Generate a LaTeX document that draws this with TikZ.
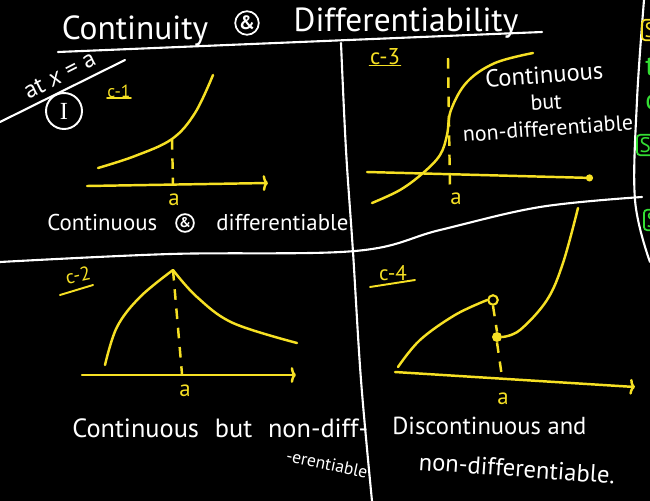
\documentclass[tikz,border=0pt]{standalone}
\usepackage{fontspec}
\setmainfont{PT Sans}
\newfontfamily\serifhand{Liberation Serif}
\usepackage{tikz}
\usetikzlibrary{arrows.meta, positioning, calc}
\definecolor{chalkyellow}{RGB}{246,224,36}
\definecolor{chalkgreen}{RGB}{52,222,52}

\begin{document}
\begin{tikzpicture}[
    x=0.02cm, y=-0.02cm,
    chalk/.style={draw=white, line width=1.2pt, line cap=round},
    curve/.style={draw=chalkyellow, line width=1.4pt, line cap=round},
    guide/.style={draw=chalkyellow, line width=1.4pt, dash pattern=on 6pt off 5pt},
    axis/.style={curve, -{To[length=3pt, width=9pt]}},
    hand/.style={text=white, inner sep=0pt, font=\fontsize{#1}{#1}\selectfont},
    tag/.style={text=chalkyellow, inner sep=0pt, font=\fontsize{#1}{#1}\selectfont},
    ampring/.style={circle, draw=white, line width=1pt, text=white, inner sep=0.5pt, font=\fontsize{#1}{#1}\selectfont\bfseries},
    alabel/.style={text=chalkyellow, inner sep=0pt, font=\fontsize{13}{13}\selectfont},
    fragbox/.style={rectangle, rounded corners=2pt, line width=1pt, inner sep=1.5pt, font=\fontsize{12}{12}\selectfont}
]

% ===== BOARD =====
\path[use as bounding box] (0,0) rectangle (650,501);
\clip (0,0) rectangle (650,501);
\fill[black] (0,0) rectangle (650,501);

% grid lines
\draw[chalk] plot[smooth, tension=0.6] coordinates {(341,43) (346,150) (353,252) (361,380) (372,501)};
\draw[chalk] plot[smooth, tension=0.6] coordinates {(0,262) (170,254) (355,251) (440,230) (540,207) (642,197)};
\draw[chalk] plot[smooth, tension=0.6] coordinates {(644,0) (637,100) (635,200) (650,262)};

% ===== TITLE =====
\node[hand=19, anchor=base] (title_l) at (135,39) {Continuity};
\node[ampring=11] (title_amp) at (247,23) {\&};
\node[hand=19, anchor=base] (title_r) at (406,31) {Differentiability};
\draw[chalk] (58,52) coordinate (rule_l) -- (542,32) coordinate (rule_r);

% at x = a
\node[hand=14, rotate=27, anchor=base] (at_note) at (63,82) {at \textit{x} = a};
\draw[chalk] (0,122) coordinate (note_l) -- (125,60) coordinate (note_r);
\node[circle, draw=white, line width=1.1pt, minimum size=0.72cm, inner sep=0pt, text=white,
      font=\serifhand\fontsize{14}{14}\selectfont] (case_one) at (64,111) {I};

% ===== C-1: CONTINUOUS AND DIFFERENTIABLE =====
\node[tag=10] (tag_c1) at (119,91) {c-1};
\draw[curve, line width=1.1pt] (tag_c1.south west) -- (tag_c1.south east);
\coordinate (c1_x0) at (87,186);
\coordinate (c1_x1) at (268,183);
\coordinate (c1_top) at (172,139);
\coordinate (c1_foot) at (173,184);
\draw[curve] plot[smooth, tension=0.6] coordinates {(98,168) (135,156) (c1_top) (195,113) (213,75)};
\draw[axis] (c1_x0) -- (c1_x1);
\draw[guide] (c1_top) -- (c1_foot);
\node[alabel] (a_c1) at (174,200) {a};
\node[hand=13, anchor=west] (cap_c1a) at (47,223) {Continuous};
\node[ampring=8] (cap_c1amp) at (185,223) {\&};
\node[hand=13, anchor=west] (cap_c1b) at (216,223) {differentiable};

% ===== C-3: CONTINUOUS BUT NON-DIFFERENTIABLE =====
\node[tag=13] (tag_c3) at (385,57) {c-3};
\draw[curve, line width=1.1pt] (tag_c3.south west) -- (tag_c3.south east);
\coordinate (c3_x0) at (367,172);
\coordinate (c3_x1) at (593,178);
\coordinate (c3_up) at (448,58);
\coordinate (c3_dn) at (450,190);
\draw[curve] plot[smooth, tension=0.6] coordinates {(372,203) (400,190) (423,173) (440,155) (447,135) (451,110) (467,82) (495,63) (533,53)};
\draw[curve, -{Circle[length=4pt]}] (c3_x0) -- (c3_x1);
\draw[guide] (c3_up) -- (c3_dn);
\node[alabel] (a_c3) at (456,199) {a};
\node[hand=12.5, rotate=4, align=center, font=\fontsize{12.5}{15}\selectfont] (txt_c3) at (546,101)
    {\fontsize{14}{15}\selectfont Continuous\\but\\non-differentiable};

% ===== C-2: CONTINUOUS BUT NON-DIFFERENTIABLE =====
\node[tag=11, rotate=12] (tag_c2) at (78,275) {c-2};
\draw[curve, line width=1.1pt] (60,295) coordinate (c2_ul) -- (93,285) coordinate (c2_ur);
\coordinate (c2_x0) at (82,375);
\coordinate (c2_x1) at (296,375);
\coordinate (c2_peak) at (173,270);
\coordinate (c2_foot) at (182,374);
\draw[curve] plot[smooth, tension=0.6] coordinates {(105,365) (117,327) (140,297) (c2_peak)};
\draw[curve] plot[smooth, tension=0.6] coordinates {(c2_peak) (197,297) (233,323) (297,343)};
\draw[axis] (c2_x0) -- (c2_x1);
\draw[guide] (c2_peak) -- (c2_foot);
\node[alabel] (a_c2) at (185,391) {a};
\node[hand=15, anchor=base west] (cap_c2a) at (72,437) {Continuous\hspace{0.6em}but\hspace{0.6em}non-diff-};
\node[hand=10, rotate=-12] (cap_c2b) at (327,464) {-erentiable};

% ===== C-4: DISCONTINUOUS AND NON-DIFFERENTIABLE =====
\node[tag=12] (tag_c4) at (393,273) {c-4};
\draw[curve, line width=1.1pt] (370,287) coordinate (c4_ul) -- (415,280) coordinate (c4_ur);
\coordinate (c4_x0) at (395,372);
\coordinate (c4_x1) at (635,387);
\coordinate (c4_foot) at (502,377);
\node[circle, draw=chalkyellow, line width=1.2pt, fill=black, minimum size=0.19cm, inner sep=0pt] (c4_open) at (493,300) {};
\node[circle, fill=chalkyellow, minimum size=0.2cm, inner sep=0pt] (c4_dot) at (497,337) {};
\draw[curve] plot[smooth, tension=0.6] coordinates {(398,367) (420,340) (455,315) (c4_open.west)};
\draw[curve] plot[smooth, tension=0.6] coordinates {(c4_dot.east) (520,330) (547,300) (563,263) (578,208)};
\draw[axis] (c4_x0) -- (c4_x1);
\draw[guide] (c4_open.south) -- (c4_dot.north);
\draw[guide] (c4_dot.south) -- (c4_foot);
\node[alabel] (a_c4) at (503,399) {a};
\node[hand=14, anchor=base west] (cap_c4a) at (392,434) {Discontinuous and};
\node[hand=14, anchor=base west, rotate=-4] (cap_c4b) at (418,470) {non-differentiable.};

% ===== CUT-OFF NOTES ON THE RIGHT EDGE =====
\node[fragbox, draw=chalkyellow, text=chalkyellow, anchor=west] (frag_s1) at (641,30) {S};
\node[text=chalkgreen, anchor=west, inner sep=0pt, font=\fontsize{16}{16}\selectfont] (frag_t) at (645,67) {t};
\node[text=chalkgreen, anchor=west, inner sep=0pt, font=\fontsize{16}{16}\selectfont] (frag_c) at (645,102) {c};
\node[fragbox, draw=chalkgreen, text=chalkgreen, anchor=west] (frag_s2) at (636,145) {S};
\node[fragbox, draw=chalkgreen, text=chalkgreen, anchor=west] (frag_s3) at (643,220) {S};

\end{tikzpicture}
\end{document}
